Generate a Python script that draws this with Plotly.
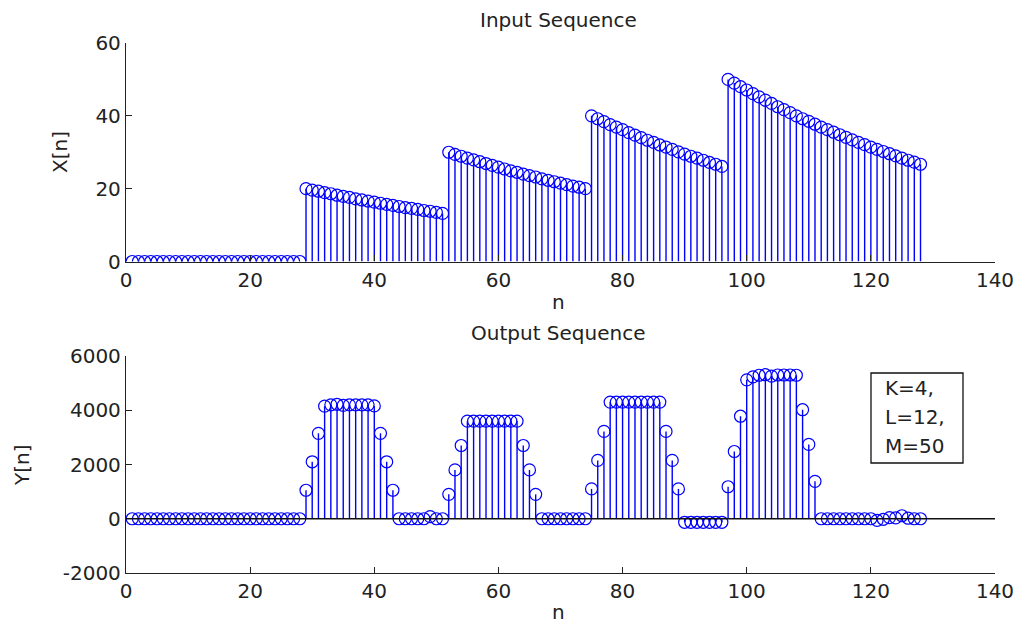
import plotly.graph_objects as go

# ---------------- data ----------------
n = list(range(1, 129))

x_zeros = [0.0] * 28
x_seg1 = [20.0, 19.6, 19.3, 18.9, 18.6, 18.2, 17.9, 17.6, 17.2, 16.9, 16.6, 16.3,
          16.0, 15.7, 15.4, 15.1, 14.8, 14.6, 14.3, 14.0, 13.8, 13.5, 13.2]
x_seg2 = [30.0, 29.4, 28.9, 28.4, 27.9, 27.4, 26.9, 26.4, 25.9, 25.4, 24.9, 24.5,
          24.0, 23.6, 23.2, 22.7, 22.3, 21.9, 21.5, 21.1, 20.7, 20.4, 20.0]
x_seg3 = [40.0, 39.2, 38.4, 37.6, 36.9, 36.2, 35.4, 34.7, 34.0, 33.3, 32.7, 32.0,
          31.4, 30.8, 30.1, 29.5, 28.9, 28.4, 27.8, 27.2, 26.7, 26.1]
x_seg4 = [50.0, 49.0, 48.0, 47.1, 46.1, 45.2, 44.3, 43.4, 42.5, 41.7, 40.9, 40.0,
          39.2, 38.5, 37.7, 36.9, 36.2, 35.5, 34.8, 34.1, 33.4, 32.7, 32.1, 31.4,
          30.8, 30.2, 29.6, 29.0, 28.4, 27.8, 27.3, 26.7]
x_vals = x_zeros + x_seg1 + x_seg2 + x_seg3 + x_seg4

y_zeros = [0] * 28
y_seg1 = [1050, 2100, 3150, 4150, 4200, 4220, 4180, 4200, 4200, 4200, 4200, 4160,
          3150, 2100, 1050]
y_gap1 = [0, 0, 0, 0, 0, 80, 0, 0]
y_seg2 = [900, 1800, 2700, 3600, 3600, 3600, 3600, 3600, 3600, 3600, 3600, 3600,
          2700, 1800, 900]
y_gap2 = [0, 0, 0, 0, 0, 0, 0, 0]
y_seg3 = [1100, 2150, 3220, 4300, 4300, 4300, 4300, 4300, 4300, 4300, 4300, 4300,
          3220, 2150, 1100]
y_gap3 = [-130, -130, -130, -130, -130, -130, -130]
y_seg4 = [1180, 2480, 3780, 5120, 5230, 5290, 5310, 5260, 5300, 5300, 5300, 5290,
          4020, 2740, 1380]
y_tail = [0, 0, 0, 0, 0, 0, 0, 0, 0, -60, -20, 40, 30, 110, 20, 0, 0]
y_vals = y_zeros + y_seg1 + y_gap1 + y_seg2 + y_gap2 + y_seg3 + y_gap3 + y_seg4 + y_tail

x_ticks = [0, 20, 40, 60, 80, 100, 120, 140]
top_yticks = [0, 20, 40, 60]
bot_yticks = [-2000, 0, 2000, 4000, 6000]
params = ["K=4,", "L=12,", "M=50"]

# ---------------- figure ----------------
BLUE = "#0000ff"
INK = "#222222"
FONT = "DejaVu Sans"
W, H = 1018, 627
# target plot-area edges in window pixels
L_PX, R_PX, T_PX, B_PX = 126, 995, 43, 573


def px(xp):
    return (xp - L_PX) / (R_PX - L_PX)


def py(yp):
    return (B_PX - yp) / (B_PX - T_PX)


def stems(xs, ys):
    sx, sy = [], []
    for a, b in zip(xs, ys):
        sx += [a, a, None]
        sy += [0, b, None]
    return sx, sy


fig = go.Figure()

mk = dict(symbol="circle-open", size=12, color=BLUE, line=dict(width=1.2, color=BLUE))

sx, sy = stems(n, x_vals)
fig.add_trace(go.Scatter(x=sx, y=sy, mode="lines", line=dict(color=BLUE, width=1.4),
                         xaxis="x", yaxis="y", showlegend=False, hoverinfo="skip"))
fig.add_trace(go.Scatter(x=n, y=x_vals, mode="markers", marker=mk,
                         xaxis="x", yaxis="y", showlegend=False))

sx2, sy2 = stems(n, y_vals)
fig.add_trace(go.Scatter(x=sx2, y=sy2, mode="lines", line=dict(color=BLUE, width=1.4),
                         xaxis="x2", yaxis="y2", showlegend=False, hoverinfo="skip"))
fig.add_trace(go.Scatter(x=n, y=y_vals, mode="markers", marker=mk,
                         xaxis="x2", yaxis="y2", showlegend=False))

axis_common = dict(showgrid=False, zeroline=False, showline=True, linecolor=INK,
                   linewidth=1.3, ticks="inside", ticklen=6, tickcolor=INK, tickwidth=1.3,
                   tickfont=dict(family=FONT, size=20, color=INK), mirror=False,
                   ticklabeloverflow="allow", automargin=False)

top_dom = [py(261.5), 1.0]
bot_dom = [0.0, py(356)]

fig.update_layout(
    width=W, height=H, autosize=False,
    margin=dict(l=L_PX, r=W - R_PX, t=T_PX, b=H - B_PX, pad=0, autoexpand=False),
    paper_bgcolor="white", plot_bgcolor="white",
    xaxis=dict(domain=[0, 1], range=[0, 140], tickvals=x_ticks,
               ticktext=[str(v) for v in x_ticks], anchor="y", **axis_common),
    yaxis=dict(domain=top_dom, range=[0, 60], tickvals=top_yticks,
               ticktext=[str(v) for v in top_yticks], anchor="x", **axis_common),
    xaxis2=dict(domain=[0, 1], range=[0, 140], tickvals=x_ticks,
                ticktext=[str(v) for v in x_ticks], anchor="y2", **axis_common),
    yaxis2=dict(domain=bot_dom, range=[-2000, 6000], tickvals=bot_yticks,
                ticktext=[str(v) for v in bot_yticks], anchor="x2", **axis_common),
)

# baseline of lower stem plot
fig.add_shape(type="line", xref="x2", yref="y2", x0=0, x1=140, y0=0, y1=0,
              line=dict(color="#111", width=1.3), layer="above")

# parameter box
fig.add_shape(type="rect", xref="paper", yref="paper",
              x0=px(871), x1=px(963), y0=py(463), y1=py(373),
              line=dict(color="#111", width=1.3), fillcolor="white", layer="above")

ann = []
for i, t in enumerate(params):
    ann.append(dict(text=t, xref="paper", yref="paper", x=px(883), y=py(388 + 29 * i),
                    xanchor="left", yanchor="middle", showarrow=False,
                    font=dict(family=FONT, size=20, color=INK)))

tfont = dict(family=FONT, size=20, color=INK)
ann += [
    dict(text="Input Sequence", xref="paper", yref="paper", x=px(558), y=py(20),
         xanchor="center", yanchor="middle", showarrow=False, font=tfont),
    dict(text="Output Sequence", xref="paper", yref="paper", x=px(558), y=py(333),
         xanchor="center", yanchor="middle", showarrow=False, font=tfont),
    dict(text="n", xref="paper", yref="paper", x=px(558), y=py(302),
         xanchor="center", yanchor="middle", showarrow=False, font=tfont),
    dict(text="n", xref="paper", yref="paper", x=px(558), y=py(612),
         xanchor="center", yanchor="middle", showarrow=False, font=tfont),
    dict(text="X[n]", xref="paper", yref="paper", x=px(60), y=py(152), textangle=-90,
         xanchor="center", yanchor="middle", showarrow=False, font=tfont),
    dict(text="Y[n]", xref="paper", yref="paper", x=px(22), y=py(465), textangle=-90,
         xanchor="center", yanchor="middle", showarrow=False, font=tfont),
]
fig.update_layout(annotations=ann)

fig.write_html("out.html",
               config={"responsive": False, "displayModeBar": False},
               post_script="document.body.style.margin='0';"
                           "document.body.style.overflow='hidden';")
